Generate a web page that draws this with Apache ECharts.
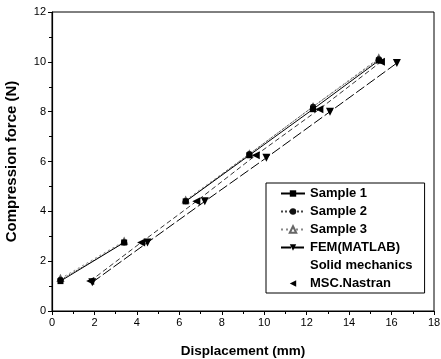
<!DOCTYPE html>
<html>
<head>
<meta charset="utf-8">
<script src="https://cdn.jsdelivr.net/npm/echarts@6/dist/echarts.min.js"></script>
<style>html,body{margin:0;padding:0;background:#fff;}#c{width:441px;height:359px;}</style>
</head>
<body>
<div id="c"></div>
<script>
// x values; null marks a gap in the line
const sampleX = [0.4, 3.4, null, 6.3, 9.3, 12.3, 15.4];
const sample1Y = [1.2, 2.75, null, 4.4, 6.25, 8.1, 10.05];
const sample2Y = [1.25, 2.75, null, 4.4, 6.3, 8.2, 10.1];
const sample3Y = [1.3, 2.8, null, 4.45, 6.3, 8.2, 10.15];
const femX = [1.9, 4.5, 7.2, 10.1, 13.1, 16.25];
const femY = [1.15, 2.75, 4.4, 6.15, 8.0, 9.95];
const mscX = [1.8, 4.2, 6.8, 9.6, 12.6, 15.5];
const mscY = [1.2, 2.75, 4.4, 6.25, 8.1, 10.0];
const xTicks = [0, 18, 2];
const yTicks = [0, 12, 2];

function pairs(xs, ys) {
  return xs.map((x, i) => (x === null || ys[i] === null) ? ['-', '-'] : [x, ys[i]]);
}

const font = 'Arial, "Liberation Sans", sans-serif';
const chart = echarts.init(document.getElementById('c'), null, {renderer: 'canvas'});
chart.setOption({
  animation: false,
  grid: {left: 52, right: 7, top: 12, bottom: 48, show: true, borderColor: '#000', borderWidth: 1,
    containLabel: false, outerBoundsMode: 'none'},
  xAxis: {
    type: 'value', min: xTicks[0], max: xTicks[1], interval: xTicks[2],
    name: 'Displacement (mm)', nameLocation: 'middle', nameGap: 33,
    nameTextStyle: {fontFamily: font, fontWeight: 'bold', fontSize: 13.5, color: '#000'},
    axisLine: {lineStyle: {color: '#000', width: 1.2}},
    axisTick: {length: 4, lineStyle: {color: '#000'}},
    minorTick: {show: true, splitNumber: 2, length: 3, lineStyle: {color: '#000'}},
    splitLine: {show: false},
    axisLabel: {fontFamily: font, fontSize: 11, color: '#000', margin: 6}
  },
  yAxis: {
    type: 'value', min: yTicks[0], max: yTicks[1], interval: yTicks[2],
    name: 'Compression force (N)', nameLocation: 'middle', nameGap: 33,
    nameTextStyle: {fontFamily: font, fontWeight: 'bold', fontSize: 15, color: '#000'},
    axisLine: {lineStyle: {color: '#000', width: 1.2}},
    axisTick: {length: 4, lineStyle: {color: '#000'}},
    minorTick: {show: true, splitNumber: 2, length: 3, lineStyle: {color: '#000'}},
    splitLine: {show: false},
    axisLabel: {fontFamily: font, fontSize: 11, color: '#000', margin: 6}
  },
  legend: {
    orient: 'vertical', left: 266, top: 183,
    padding: [4, 12, 3, 14], itemGap: 5, itemWidth: 24, itemHeight: 8,
    borderColor: '#000', borderWidth: 1, backgroundColor: '#fff',
    textStyle: {fontFamily: font, fontWeight: 'bold', fontSize: 13, color: '#000'},
    data: [
      {name: 'Sample 1'},
      {name: 'Sample 2'},
      {name: 'Sample 3'},
      {name: 'FEM(MATLAB)'},
      {name: 'Solid mechanics', icon: 'none'},
      {name: 'MSC.Nastran', lineStyle: {opacity: 0}}
    ]
  },
  series: [
    {name: 'Sample 1', type: 'line', data: pairs(sampleX, sample1Y), symbol: 'rect', symbolSize: 6,
      itemStyle: {color: '#000'}, lineStyle: {color: '#000', width: 1}, z: 5},
    {name: 'Sample 2', type: 'line', data: pairs(sampleX, sample2Y), symbol: 'circle', symbolSize: 6,
      itemStyle: {color: '#111'}, lineStyle: {color: '#444', width: 1, type: 'dotted'}, z: 4},
    {name: 'Sample 3', type: 'line', data: pairs(sampleX, sample3Y), symbol: 'emptyTriangle', symbolSize: 5,
      itemStyle: {color: '#666', borderColor: '#666'}, lineStyle: {color: '#888', width: 1, type: [2, 3]}, z: 3},
    {name: 'FEM(MATLAB)', type: 'line', data: pairs(femX, femY), symbol: 'triangle', symbolRotate: 180, symbolSize: 8,
      itemStyle: {color: '#000'}, lineStyle: {color: '#000', width: 1, type: [10, 3]}, z: 5},
    {name: 'Solid mechanics', type: 'line', data: [], symbol: 'none', lineStyle: {opacity: 0}},
    {name: 'MSC.Nastran', type: 'line', data: pairs(mscX, mscY), symbol: 'triangle', symbolRotate: 90, symbolSize: 8,
      itemStyle: {color: '#000'}, lineStyle: {color: '#333', width: 1, type: [5, 3]}, z: 4}
  ]
});
</script>
</body>
</html>
